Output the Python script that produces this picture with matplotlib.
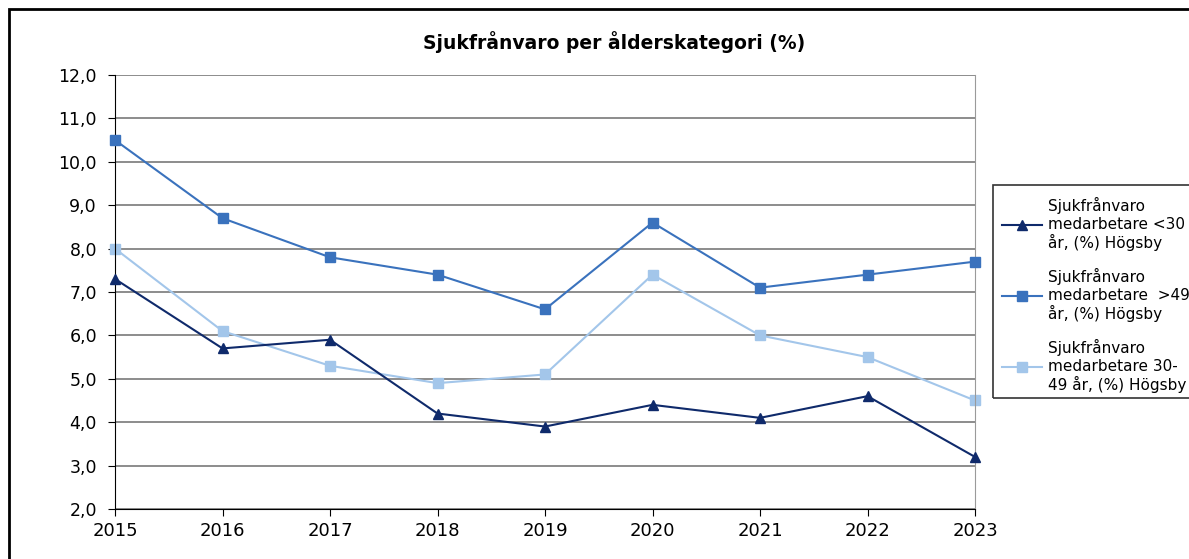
import matplotlib
matplotlib.use("Agg")
import matplotlib.pyplot as plt
from matplotlib.patches import Rectangle
from matplotlib.ticker import FuncFormatter

years = [2015, 2016, 2017, 2018, 2019, 2020, 2021, 2022, 2023]
under30 = [7.3, 5.7, 5.9, 4.2, 3.9, 4.4, 4.1, 4.6, 3.2]
over49 = [10.5, 8.7, 7.8, 7.4, 6.6, 8.6, 7.1, 7.4, 7.7]
mid30_49 = [8.0, 6.1, 5.3, 4.9, 5.1, 7.4, 6.0, 5.5, 4.5]
labels = ["Sjukfrånvaro\nmedarbetare <30\når, (%) Högsby",
          "Sjukfrånvaro\nmedarbetare  >49\når, (%) Högsby",
          "Sjukfrånvaro\nmedarbetare 30-\n49 år, (%) Högsby"]
title = "Sjukfrånvaro per ålderskategori (%)"

plt.rcParams['font.family'] = ['DejaVu Sans']

W, H = 1189, 559
fig = plt.figure(figsize=(W/100, H/100), dpi=100)
ax = fig.add_axes([115/W, (H-509)/H, (975-115)/W, (509-75)/H])

c1, c2, c3 = "#0f2a6b", "#3a72bd", "#a3c6ea"
l1, = ax.plot(years, under30, color=c1, lw=1.5, marker="^", ms=7, mec=c1, mfc=c1, clip_on=False, zorder=4)
l2, = ax.plot(years, over49, color=c2, lw=1.5, marker="s", ms=7, mec=c2, mfc=c2, clip_on=False, zorder=3)
l3, = ax.plot(years, mid30_49, color=c3, lw=1.5, marker="s", ms=7, mec=c3, mfc=c3, clip_on=False, zorder=2)

ax.set_xlim(2015, 2023)
ax.set_ylim(2, 12)
ax.set_yticks(range(2, 13))
ax.set_xticks(years)
ax.yaxis.set_major_formatter(FuncFormatter(lambda v, p: f"{v:.1f}".replace(".", ",")))
ax.yaxis.grid(True, color="#6e6e6e", lw=1.1)
ax.set_axisbelow(True)
ax.spines["top"].set_visible(False)
ax.spines["right"].set_color("#9a9a9a")
ax.spines["left"].set_color("black")
ax.spines["bottom"].set_color("black")
ax.tick_params(axis="y", direction="out", length=5, labelsize=12.5, color="black", pad=8)
ax.tick_params(axis="x", direction="out", length=5, labelsize=13, color="black", pad=4)

fig.text(614/W, 1-42/H, title, ha="center", va="center", fontsize=13.5, fontweight="bold")

# figure border
fig.patches.append(Rectangle((9/W, -0.05), 1.1, 1-9/H+0.05, transform=fig.transFigure,
                             fill=False, ec="black", lw=2))
# legend box
fig.patches.append(Rectangle((993/W, 1-398/H), 0.3, (398-185)/H, transform=fig.transFigure,
                             fill=False, ec="#333333", lw=1.2))
fig.legend([l1, l2, l3], labels, loc="upper left", bbox_to_anchor=(996/W, 1-191/H),
           frameon=False, fontsize=11, handlelength=2.6, labelspacing=1.1,
           handletextpad=0.4, borderaxespad=0)

fig.savefig("out.png", dpi=100)
